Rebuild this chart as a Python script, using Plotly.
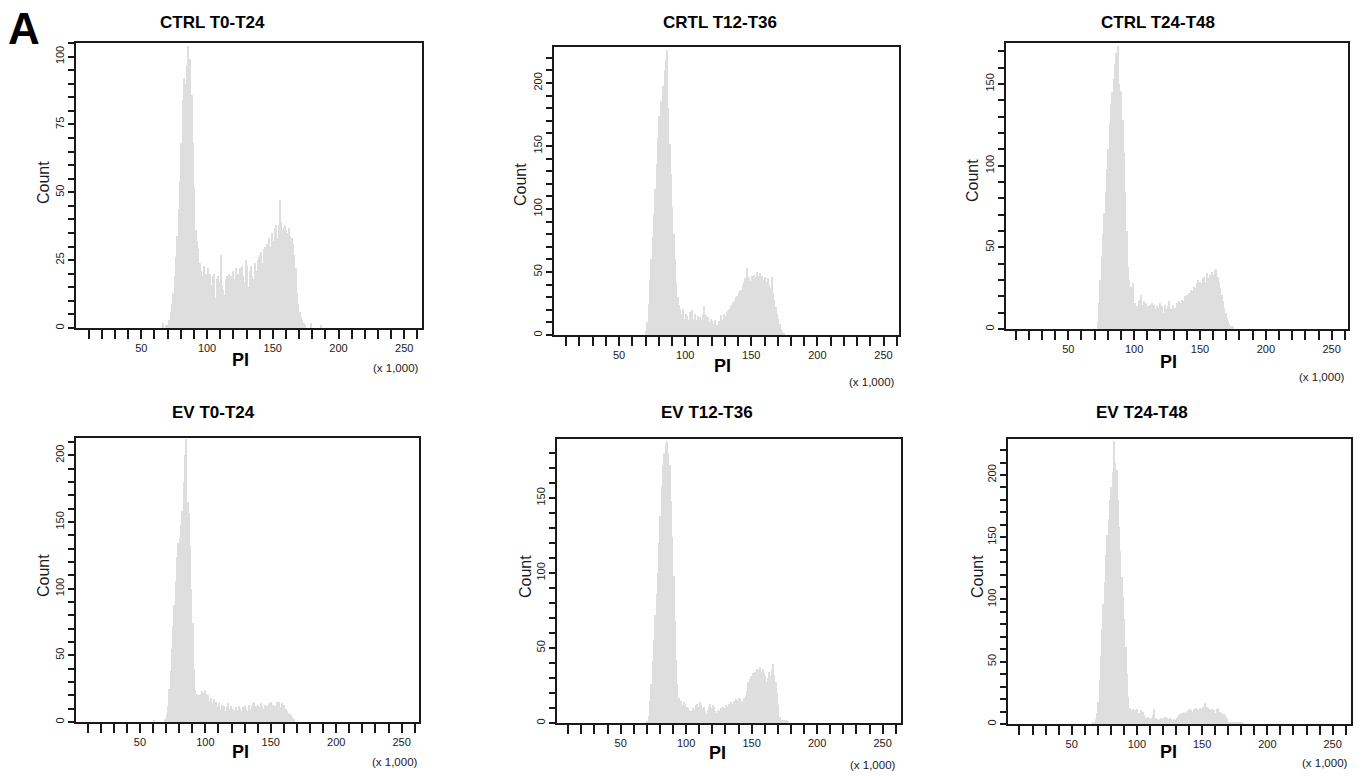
import plotly.graph_objects as go

# PI histograms: counts per 1,000-unit channel, first channel starts at PI = 60 (x 1,000)
BIN_START = 60
BIN_WIDTH = 1.0

ctrl_t0_t24 = [
    0, 0, 0, 0, 0, 0, 2, 0, 1, 0, 1,
    3, 6, 9, 13, 19, 26, 34, 44, 54, 68,
    84, 92, 90, 97, 104, 95, 99, 86, 68, 52,
    36, 32, 29, 24, 21, 19, 23, 9, 20, 22,
    18, 20, 16, 19, 20, 11, 18, 19, 17, 27,
    16, 14, 12, 18, 19, 20, 15, 19, 21, 13,
    18, 22, 20, 15, 22, 23, 19, 17, 25, 23,
    15, 21, 23, 19, 18, 24, 21, 25, 26, 27,
    28, 24, 29, 30, 31, 29, 33, 30, 35, 32,
    37, 38, 33, 38, 47, 39, 36, 37, 38, 36,
    35, 37, 34, 33, 31, 27, 22, 13, 9, 6,
    4, 3, 2, 1, 0, 0, 0, 0, 2, 0,
    0, 0, 0, 0, 0, 1,
]

crtl_t12_t36 = [
    0, 0, 0, 0, 0, 0, 0, 0, 0, 0,
    3, 10, 25, 44, 60, 78, 96, 116, 136, 156, 174,
    186, 180, 198, 210, 218, 226, 180, 152, 128, 102,
    80, 60, 42, 30, 24, 20, 17, 21, 13, 17,
    15, 12, 18, 14, 20, 13, 17, 12, 15, 11,
    14, 12, 17, 23, 16, 12, 14, 10, 13, 11,
    9, 12, 7, 8, 11, 9, 16, 12, 17, 15,
    18, 20, 21, 23, 24, 26, 28, 30, 31, 33,
    35, 36, 40, 42, 45, 53, 44, 46, 43, 47,
    45, 48, 46, 50, 47, 49, 45, 47, 44, 46,
    42, 45, 40, 37, 46, 33, 28, 22, 17, 13,
    9, 5, 2, 1,
]

ctrl_t24_t48 = [
    0, 0, 0, 0, 0, 0, 0, 0, 0, 0, 0, 0,
    4, 16, 30, 44, 58, 71, 84, 98, 110,
    126, 138, 145, 153, 162, 169, 173, 150, 146, 145,
    128, 108, 84, 60, 38, 30, 26, 23, 28, 16,
    12, 14, 18, 13, 21, 15, 17, 12, 16, 14,
    11, 15, 16, 13, 15, 12, 14, 13, 16, 11,
    14, 10, 15, 12, 14, 17, 13, 12, 15, 8,
    13, 16, 14, 17, 16, 18, 17, 20, 19, 21,
    22, 20, 24, 23, 26, 25, 28, 30, 27, 29,
    28, 31, 32, 29, 34, 31, 33, 30, 35, 33,
    36, 37, 32, 29, 25, 21, 17, 13, 10, 7,
    5, 3, 2, 2, 1,
]

ev_t0_t24 = [
    1, 0, 0, 0, 0, 0, 0, 0, 0,
    2, 6, 12, 25, 38, 55, 72, 88, 106, 124, 134, 138,
    148, 158, 180, 200, 212, 165, 157, 132, 100, 74,
    40, 24, 21, 19, 20, 21, 23, 22, 24, 21,
    18, 20, 16, 18, 14, 17, 12, 15, 11, 14,
    10, 13, 9, 12, 8, 11, 14, 10, 12, 7,
    10, 8, 11, 9, 12, 10, 8, 11, 9, 12,
    10, 8, 13, 10, 12, 14, 15, 12, 10, 13,
    11, 14, 12, 10, 13, 11, 12, 14, 11, 15,
    13, 10, 12, 15, 13, 15, 11, 14, 12, 13,
    10, 8, 7, 6, 5, 4, 2,
]

ev_t12_t36 = [
    0, 0, 0, 0, 0, 0, 0, 0, 0, 0,
    1, 5, 15, 26, 41, 55, 72, 86, 100, 120,
    138, 158, 172, 180, 186, 188, 180, 172, 148, 124,
    98, 68, 42, 26, 17, 14, 15, 12, 14, 13,
    11, 10, 9, 8, 7, 10, 9, 12, 13, 11,
    14, 12, 10, 11, 8, 6, 9, 11, 13, 10,
    12, 11, 8, 7, 9, 8, 10, 9, 11, 10,
    12, 11, 13, 12, 14, 13, 15, 14, 16, 15,
    17, 16, 14, 15, 17, 18, 21, 27, 29, 31,
    30, 33, 34, 32, 36, 35, 37, 34, 36, 33,
    31, 27, 30, 34, 31, 36, 39, 32, 27, 20,
    12, 4, 2, 2, 2, 2, 2, 1,
]

ev_t24_t48 = [
    0, 0, 0, 0, 0, 0,
    1, 2, 4, 9, 18, 35, 55, 76, 96, 114,
    136, 152, 165, 180, 190, 202, 227, 210, 204, 180,
    158, 139, 118, 102, 84, 62, 40, 22, 13, 11,
    10, 12, 11, 9, 12, 9, 8, 11, 10, 7,
    6, 5, 6, 5, 4, 5, 7, 12, 5, 4,
    3, 4, 5, 4, 5, 6, 6, 5, 4, 5,
    4, 3, 4, 3, 5, 6, 7, 8, 9, 8,
    10, 9, 10, 11, 12, 11, 10, 12, 11, 13,
    12, 11, 13, 12, 14, 13, 17, 14, 13, 12,
    11, 12, 10, 11, 9, 12, 13, 10, 9, 8,
    8, 7, 6, 4, 2, 1, 1, 1, 1, 1,
    1, 1, 1, 1, 1,
]

panel_titles = ["CTRL T0-T24", "CRTL T12-T36", "CTRL T24-T48",
                "EV T0-T24", "EV T12-T36", "EV T24-T48"]
panel_counts = [ctrl_t0_t24, crtl_t12_t36, ctrl_t24_t48,
                ev_t0_t24, ev_t12_t36, ev_t24_t48]
x_tick_labels = [50, 100, 150, 200, 250]

# pixel geometry of each panel (figure is 1363 x 776, no margins)
W, H = 1363, 776
panels = [
    dict(box=(76, 422, 43, 328), xr=[0.3, 263.5], yr=[0, 105], major=25, minor=5,
         title=(212, 22), count=(43, 182), pi=(240, 360), unit=(396, 368)),
    dict(box=(554, 899, 47, 335), xr=[0.8, 261.7], yr=[0, 228.6], major=50, minor=10,
         title=(720, 22), count=(520, 185), pi=(722, 366), unit=(872, 382)),
    dict(box=(1006, 1348, 43, 329), xr=[2.7, 262.4], yr=[0, 175.1], major=50, minor=10,
         title=(1158, 22), count=(972, 180), pi=(1168, 362), unit=(1322, 377)),
    dict(box=(76, 419, 438, 722), xr=[1.1, 263.3], yr=[0, 213], major=50, minor=10,
         title=(213, 412), count=(43, 575), pi=(240, 752), unit=(395, 762)),
    dict(box=(557, 901, 439, 723), xr=[1.4, 264], yr=[0, 189.3], major=50, minor=10,
         title=(707, 412), count=(525, 577), pi=(718, 753), unit=(873, 765)),
    dict(box=(1008, 1351, 439, 724), xr=[1.2, 264.1], yr=[0, 228.9], major=50, minor=10,
         title=(1142, 412), count=(977, 577), pi=(1168, 752), unit=(1325, 763)),
]

FONT = "Liberation Sans, Arial, sans-serif"
INK = "#1a1a1a"
FILL = "#dedede"


def px(x, y):
    return x / W, 1 - y / H


fig = go.Figure()
layout = dict(
    width=W, height=H,
    margin=dict(l=0, r=0, t=0, b=0),
    paper_bgcolor="white", plot_bgcolor="white",
    showlegend=False, bargap=0,
    font=dict(family=FONT, color=INK),
)
annotations = []

for i, (counts, title, p) in enumerate(zip(panel_counts, panel_titles, panels)):
    n = i + 1
    xa = "xaxis" if n == 1 else f"xaxis{n}"
    ya = "yaxis" if n == 1 else f"yaxis{n}"
    xref = "x" if n == 1 else f"x{n}"
    yref = "y" if n == 1 else f"y{n}"

    centers = [BIN_START + (k + 0.5) * BIN_WIDTH for k in range(len(counts))]
    fig.add_trace(go.Bar(
        x=centers, y=counts, width=BIN_WIDTH,
        marker=dict(color=FILL, line=dict(width=0)),
        xaxis=xref, yaxis=yref, hoverinfo="skip",
    ))

    left, right, top, bottom = p["box"]
    x0, _ = px(left, 0)
    x1, _ = px(right, 0)
    _, y0 = px(0, bottom)
    _, y1 = px(0, top)

    layout[xa] = dict(
        domain=[x0, x1], range=p["xr"], anchor=yref,
        showgrid=False, zeroline=False,
        showline=True, mirror=True, linecolor=INK, linewidth=2,
        tickmode="array", tickvals=x_tick_labels,
        ticktext=[str(v) for v in x_tick_labels],
        ticks="outside", ticklen=9, tickwidth=2, tickcolor=INK,
        tickfont=dict(size=11, color=INK, family=FONT),
        minor=dict(tickmode="linear", tick0=0, dtick=10, ticks="outside",
                   ticklen=9, tickwidth=2, tickcolor=INK, showgrid=False),
    )
    layout[ya] = dict(
        domain=[y0, y1], range=p["yr"], anchor=xref,
        showgrid=False, zeroline=False,
        showline=True, mirror=True, linecolor=INK, linewidth=2,
        tickmode="linear", tick0=0, dtick=p["major"],
        ticks="outside", ticklen=6, tickwidth=1.5, tickcolor=INK,
        tickangle=-90, tickfont=dict(size=11, color=INK, family=FONT),
        minor=dict(tickmode="linear", tick0=0, dtick=p["minor"], ticks="outside",
                   ticklen=6, tickwidth=1.5, tickcolor=INK, showgrid=False),
    )

    tx, ty = px(*p["title"])
    annotations.append(dict(x=tx, y=ty, xref="paper", yref="paper", text=f"<b>{title}</b>",
                            showarrow=False, xanchor="center", yanchor="middle",
                            font=dict(size=17, color="#000", family=FONT)))
    cx, cy = px(*p["count"])
    annotations.append(dict(x=cx, y=cy, xref="paper", yref="paper", text="Count",
                            showarrow=False, textangle=-90, xanchor="center", yanchor="middle",
                            font=dict(size=16, color=INK, family=FONT)))
    pxx, pyy = px(*p["pi"])
    annotations.append(dict(x=pxx, y=pyy, xref="paper", yref="paper", text="<b>PI</b>",
                            showarrow=False, xanchor="center", yanchor="middle",
                            font=dict(size=18, color="#000", family=FONT)))
    ux, uy = px(*p["unit"])
    annotations.append(dict(x=ux, y=uy, xref="paper", yref="paper", text="(x 1,000)",
                            showarrow=False, xanchor="center", yanchor="middle",
                            font=dict(size=11.5, color=INK, family=FONT)))

# figure panel letter
ax_, ay_ = px(24, 29)
annotations.append(dict(x=ax_, y=ay_, xref="paper", yref="paper", text="<b>A</b>",
                        showarrow=False, xanchor="center", yanchor="middle",
                        font=dict(size=44, color="#000", family=FONT)))

layout["annotations"] = annotations
fig.update_layout(**layout)
fig.write_html("out.html")
